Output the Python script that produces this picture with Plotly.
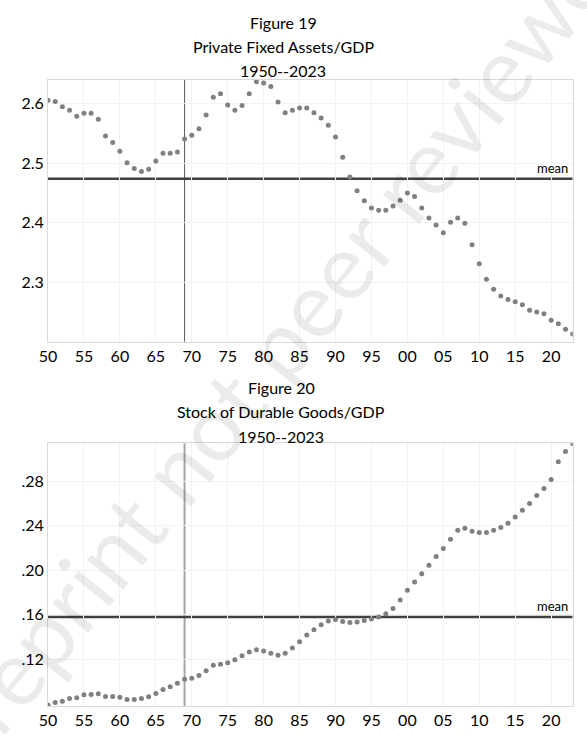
import numpy as np
import plotly.graph_objects as go

# Años y series
years = list(range(1950, 2024))

fixed_assets_gdp = [
    2.606, 2.604, 2.595, 2.589, 2.579, 2.584, 2.584, 2.574, 2.546, 2.535,
    2.520, 2.501, 2.491, 2.486, 2.490, 2.504, 2.517, 2.517, 2.519, 2.541,
    2.547, 2.558, 2.581, 2.611, 2.617, 2.598, 2.589, 2.597, 2.617, 2.637,
    2.635, 2.629, 2.603, 2.585, 2.589, 2.593, 2.593, 2.585, 2.576, 2.564,
    2.544, 2.510, 2.477, 2.454, 2.437, 2.425, 2.421, 2.421, 2.428, 2.438,
    2.450, 2.444, 2.425, 2.408, 2.396, 2.383, 2.401, 2.408, 2.399, 2.363,
    2.331, 2.305, 2.288, 2.277, 2.271, 2.267, 2.262, 2.253, 2.250, 2.247,
    2.236, 2.230, 2.221, 2.213,
]

durables_gdp = [
    0.0790, 0.0811, 0.0823, 0.0847, 0.0853, 0.0880, 0.0883, 0.0889, 0.0865, 0.0865,
    0.0859, 0.0838, 0.0838, 0.0847, 0.0862, 0.0892, 0.0928, 0.0952, 0.0985, 0.1021,
    0.1030, 0.1054, 0.1096, 0.1147, 0.1156, 0.1168, 0.1195, 0.1231, 0.1264, 0.1285,
    0.1273, 0.1255, 0.1237, 0.1255, 0.1300, 0.1357, 0.1417, 0.1465, 0.1510, 0.1543,
    0.1558, 0.1540, 0.1531, 0.1534, 0.1549, 0.1561, 0.1579, 0.1609, 0.1657, 0.1732,
    0.1819, 0.1894, 0.1969, 0.2044, 0.2122, 0.2194, 0.2278, 0.2359, 0.2377, 0.2350,
    0.2338, 0.2338, 0.2359, 0.2383, 0.2422, 0.2479, 0.2539, 0.2599, 0.2671, 0.2734,
    0.2815, 0.2974, 0.3067, 0.3136,
]

x_tickvals = list(range(1950, 2021, 5))
x_ticktext = ["50", "55", "60", "65", "70", "75", "80", "85", "90", "95",
              "00", "05", "10", "15", "20"]

y1_tickvals = [2.3, 2.4, 2.5, 2.6]
y1_ticktext = ["2.3", "2.4", "2.5", "2.6"]
y2_tickvals = [0.12, 0.16, 0.20, 0.24, 0.28]
y2_ticktext = [".12", ".16", ".20", ".24", ".28"]

titles_19 = ["Figure 19", "Private Fixed Assets/GDP", "1950--2023"]
titles_20 = ["Figure 20", "Stock of Durable Goods/GDP", "1950--2023"]

vline_year = 1969
mean_19 = float(np.mean(fixed_assets_gdp))
mean_20 = float(np.mean(durables_gdp))

W, H = 587, 739
FONT = "Lato"
DOT = "#808080"


def py(px_from_top):
    return 1 - px_from_top / H


fig = go.Figure()

fig.add_trace(go.Scatter(x=years, y=fixed_assets_gdp, mode="markers",
                         marker=dict(color=DOT, size=5),
                         xaxis="x", yaxis="y", showlegend=False))
fig.add_trace(go.Scatter(x=years, y=durables_gdp, mode="markers",
                         marker=dict(color=DOT, size=5),
                         xaxis="x2", yaxis="y2", showlegend=False))

# líneas de media y línea vertical
fig.add_shape(type="line", xref="x", yref="y", x0=1950, x1=2023, y0=mean_19, y1=mean_19,
              line=dict(color="#404040", width=2.5), layer="below")
fig.add_shape(type="line", xref="x2", yref="y2", x0=1950, x1=2023, y0=mean_20, y1=mean_20,
              line=dict(color="#404040", width=2.5), layer="below")
fig.add_shape(type="line", xref="x", yref="paper", x0=vline_year, x1=vline_year,
              y0=py(341.7), y1=py(80), line=dict(color="#595959", width=1), layer="below")
fig.add_shape(type="line", xref="x2", yref="paper", x0=vline_year, x1=vline_year,
              y0=py(706), y1=py(443.3), line=dict(color="#a6a6a6", width=2), layer="below")

axis_common = dict(showgrid=True, gridcolor="#f2f2f2", gridwidth=1, zeroline=False,
                   showline=True, linecolor="#d9d9d9", linewidth=1, mirror=True,
                   ticks="", automargin=False,
                   tickfont=dict(family=FONT, size=16, color="black"))

fig.update_layout(
    width=W, height=H,
    margin=dict(l=0, r=0, t=0, b=0),
    paper_bgcolor="white", plot_bgcolor="white",
    font=dict(family=FONT, color="black"),
    xaxis=dict(domain=[48 / W, 572.7 / W], range=[1950, 2023], anchor="y",
               tickvals=x_tickvals, ticktext=x_ticktext, **axis_common),
    yaxis=dict(domain=[py(341.7), py(80)], range=[2.20, 2.64], anchor="x",
               tickvals=y1_tickvals, ticktext=y1_ticktext, **axis_common),
    xaxis2=dict(domain=[48 / W, 572.7 / W], range=[1950, 2023], anchor="y2",
                tickvals=x_tickvals, ticktext=x_ticktext, **axis_common),
    yaxis2=dict(domain=[py(706), py(443.3)], range=[0.078, 0.314], anchor="x2",
                tickvals=y2_tickvals, ticktext=y2_ticktext, **axis_common),
)

ann = []
for txt, ypix in zip(titles_19, [22.7, 46.7, 70.7]):
    ann.append(dict(text=txt, x=283 / W, y=py(ypix), xref="paper", yref="paper",
                    showarrow=False, xanchor="center", yanchor="middle",
                    font=dict(family=FONT, size=16, color="black")))
for txt, ypix in zip(titles_20, [387, 411.5, 436]):
    ann.append(dict(text=txt, x=281 / W, y=py(ypix), xref="paper", yref="paper",
                    showarrow=False, xanchor="center", yanchor="middle",
                    font=dict(family=FONT, size=16, color="black")))
ann.append(dict(text="mean", x=2023, y=mean_19, xref="x", yref="y", showarrow=False,
                xanchor="right", yanchor="bottom", xshift=-3, yshift=1,
                font=dict(family=FONT, size=13, color="black")))
ann.append(dict(text="mean", x=2023, y=mean_20, xref="x2", yref="y2", showarrow=False,
                xanchor="right", yanchor="bottom", xshift=-3, yshift=1,
                font=dict(family=FONT, size=13, color="black")))
# marca de agua
ann.append(dict(text="Preprint not peer reviewed", x=279 / W, y=py(340), xref="paper",
                yref="paper", showarrow=False, textangle=-51, xanchor="center",
                yanchor="middle",
                font=dict(family=FONT, size=92, color="rgba(0,0,0,0.08)")))
fig.update_layout(annotations=ann)

# quitar el margen por defecto del body y la barra de herramientas
fig.write_html("out.html", config={"displayModeBar": False},
               post_script="document.body.style.margin='0px';")
